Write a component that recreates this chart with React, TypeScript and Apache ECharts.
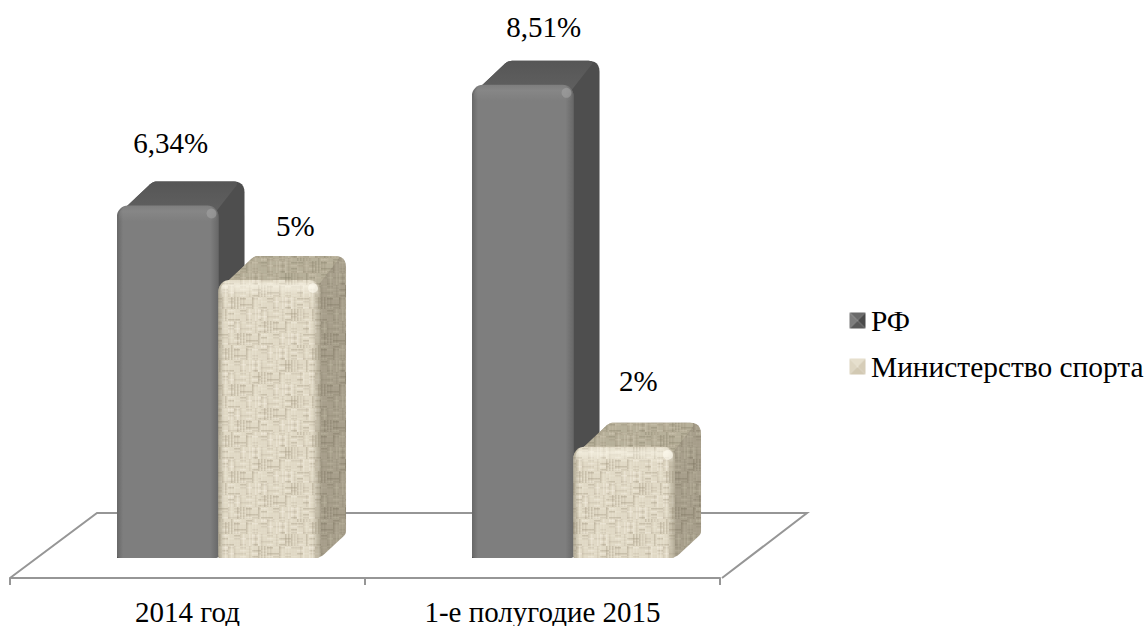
import React, { useEffect, useRef } from "react";
import * as echarts from "echarts";

const categories = ["2014 год", "1-е полугодие 2015"];
const rfValues = [6.34, 8.51];
const sportValues = [5, 2];
const rfLabels = ["6,34%", "8,51%"];
const sportLabels = ["5%", "2%"];
const seriesNames = ["РФ", "Министерство спорта"];

const FONT = '"Liberation Serif", "Times New Roman", serif';
const FONT_SIZE = 29;
const threadShade = [0, 2, 1, 3, 0, 1, 4, 0, 2, 0, 3, 1, 0, 4, 1, 2, 0, 3, 2, 0, 1, 4, 0, 3, 1, 0, 2, 4, 0];

function makeWeave(base: string, light: string, dark: string) {
  const size = 87;
  const cv = document.createElement("canvas");
  cv.width = size;
  cv.height = size;
  const c = cv.getContext("2d")!;
  c.fillStyle = base;
  c.fillRect(0, 0, size, size);
  (c as any).filter = "blur(0.6px)";
  for (let i = 0; i < 29; i++) {
    for (let j = 0; j < 29; j++) {
      const s = threadShade[(i * 7 + (j >> 2) * 5) % 29];
      const t = threadShade[(i * 11 + (j >> 1) * 13 + 3) % 29];
      c.fillStyle = s % 2 ? dark : light;
      c.globalAlpha = 0.08 + s * 0.09;
      c.fillRect(i * 3, j * 3, 1.5, 3);
      c.fillStyle = t % 2 ? dark : light;
      c.globalAlpha = 0.08 + t * 0.09;
      c.fillRect(j * 3, i * 3 + 1, 3, 1.5);
    }
  }
  c.globalAlpha = 1;
  return cv.toDataURL();
}

function makeBevelIcon(top: string, left: string, right: string, bottom: string, centre: string) {
  const cv = document.createElement("canvas");
  const n = 16;
  cv.width = n;
  cv.height = n;
  const c = cv.getContext("2d")!;
  const tri = (col: string, pts: number[][]) => {
    c.fillStyle = col;
    c.beginPath();
    pts.forEach((p, i) => (i ? c.lineTo(p[0], p[1]) : c.moveTo(p[0], p[1])));
    c.closePath();
    c.fill();
  };
  const m = n / 2;
  tri(top, [[0, 0], [n, 0], [m, m]]);
  tri(left, [[0, 0], [0, n], [m, m]]);
  tri(right, [[n, 0], [n, n], [m, m]]);
  tri(bottom, [[0, n], [n, n], [m, m]]);
  c.fillStyle = centre;
  c.fillRect(m - 1, m - 1, 2, 2);
  return cv.toDataURL();
}

function roundedPoly(pts: number[][], radii: number[]) {
  const out: number[][] = [];
  const n = pts.length;
  for (let i = 0; i < n; i++) {
    const p = pts[i];
    const a = pts[(i + n - 1) % n];
    const b = pts[(i + 1) % n];
    const r = radii[i];
    if (!r) {
      out.push(p);
      continue;
    }
    const la = Math.hypot(a[0] - p[0], a[1] - p[1]);
    const lb = Math.hypot(b[0] - p[0], b[1] - p[1]);
    const s = [p[0] + ((a[0] - p[0]) * r) / la, p[1] + ((a[1] - p[1]) * r) / la];
    const e = [p[0] + ((b[0] - p[0]) * r) / lb, p[1] + ((b[1] - p[1]) * r) / lb];
    for (let k = 0; k <= 6; k++) {
      const t = k / 6;
      const u = 1 - t;
      out.push([
        u * u * s[0] + 2 * u * t * p[0] + t * t * e[0],
        u * u * s[1] + 2 * u * t * p[1] + t * t * e[1],
      ]);
    }
  }
  return out;
}

const grad = (x2: number, y2: number, stops: [number, string][]) => ({
  type: "linear",
  x: 0,
  y: 0,
  x2,
  y2,
  colorStops: stops.map(([offset, color]) => ({ offset, color })),
});

type Skin = {
  side: any;
  top: any;
  front: any;
  edgeDark: string;
  edgeClear: string;
  shine: string;
  shineClear: string;
  spot: string;
};

function barItem(
  skin: Skin,
  offset: number,
  labels: string[],
  nudges: number[][]
) {
  return (params: any, api: any) => {
    const idx = api.value(0);
    const val = api.value(1);
    const cx = api.coord([idx, 0])[0];
    const yB = api.coord([idx, 0])[1];
    const yT = api.coord([idx, val])[1];
    const band = api.size([1, 0])[0];
    const w = band * 0.286;
    const x0 = cx + offset * band;
    const dx = 26;
    const dy = 24;
    const x1 = x0 + w;
    const sil = roundedPoly(
      [
        [x0, yT + 10],
        [x0 + 36, yT - dy],
        [x1 + dx, yT - dy],
        [x1 + dx, yB - dy],
        [x1, yB],
        [x0, yB],
      ],
      [0, 4, 11, 3, 6, 0]
    );
    const topFace = roundedPoly(
      [
        [x0, yT + 10],
        [x0 + 36, yT - dy],
        [x1 + dx - 5, yT - dy],
        [x1 - 4, yT + 8],
      ],
      [0, 4, 6, 0]
    );
    return {
      type: "group",
      children: [
        { type: "polygon", shape: { points: sil }, style: { fill: skin.side } },
        { type: "polygon", shape: { points: topFace }, style: { fill: skin.top } },
        {
          type: "rect",
          shape: { x: x0, y: yT, width: w, height: yB - yT, r: [11, 11, 3, 3] },
          style: { fill: skin.front },
        },
        {
          type: "rect",
          shape: { x: x0, y: yT, width: w, height: yB - yT, r: [11, 11, 3, 3] },
          style: {
            fill: grad(1, 0, [
              [0, skin.edgeDark],
              [0.06, skin.edgeClear],
              [0.92, skin.edgeClear],
              [1, skin.edgeDark],
            ]),
          },
        },
        {
          type: "rect",
          shape: { x: x0 + 2, y: yT, width: w - 4, height: 16, r: [11, 11, 0, 0] },
          style: {
            fill: grad(0, 1, [
              [0, skin.shineClear],
              [0.35, skin.shine],
              [1, skin.shineClear],
            ]),
          },
        },
        {
          type: "circle",
          shape: { cx: x1 - 7, cy: yT + 8, r: 5 },
          style: { fill: skin.spot },
        },
        {
          type: "text",
          x: x0 + w / 2 + nudges[idx][0],
          y: yT + nudges[idx][1],
          style: {
            text: labels[idx],
            font: `${FONT_SIZE}px ${FONT}`,
            fill: "#000",
            textAlign: "center",
            textVerticalAlign: "middle",
          },
        },
      ],
    };
  };
}

export default function App() {
  const ref = useRef<HTMLDivElement>(null);
  useEffect(() => {
    document.body.style.margin = "0";
    const chart = echarts.init(ref.current!, undefined, { renderer: "svg" });
    const pat = (image: string) => ({
      image,
      repeat: "repeat",
      imageWidth: 87,
      imageHeight: 87,
    });
    const wFront = makeWeave("#e0d8c4", "#f4efe2", "#9a917a");
    const wTop = makeWeave("#b6ae98", "#cfc8b4", "#857d67");
    const wSide = makeWeave("#a69e8a", "#bdb6a2", "#77705c");

    const rfSkin: Skin = {
      side: "#4e4e4e",
      top: grad(0, 1, [[0, "#565656"], [1, "#616161"]]),
      front: "#7e7e7e",
      edgeDark: "rgba(85,85,85,0.55)",
      edgeClear: "rgba(85,85,85,0)",
      shine: "rgba(150,150,150,0.35)",
      shineClear: "rgba(150,150,150,0)",
      spot: "rgba(165,165,165,0.55)",
    };
    const sportSkin: Skin = {
      side: pat(wSide) as any,
      top: pat(wTop) as any,
      front: pat(wFront) as any,
      edgeDark: "rgba(130,122,100,0.5)",
      edgeClear: "rgba(130,122,100,0)",
      shine: "rgba(250,246,232,0.6)",
      shineClear: "rgba(250,246,232,0)",
      spot: "rgba(255,252,240,0.6)",
    };

    const rfIcon = makeBevelIcon("#6a6a6a", "#7d7d7d", "#4a4a4a", "#5a5a5a", "#888888");
    const sportIcon = makeBevelIcon("#e6dfcd", "#ded6c2", "#d6cdb8", "#d2c9b3", "#e8e2d2");

    chart.setOption({
      animation: false,
      backgroundColor: "#fff",
      textStyle: { fontFamily: FONT },
      grid: { left: 10, top: 2, width: 710, height: 576, outerBoundsMode: "none" },
      xAxis: {
        type: "category",
        data: categories,
        axisLine: { show: true, onZero: false, lineStyle: { color: "#969696", width: 2 } },
        axisTick: { show: true, alignWithLabel: false, length: 7, lineStyle: { color: "#969696", width: 2 } },
        axisLabel: { color: "#000", fontSize: FONT_SIZE, fontFamily: FONT, margin: 19 },
      },
      yAxis: { type: "value", min: -0.36, max: 10, show: false, splitLine: { show: false } },
      legend: {
        orient: "vertical",
        left: 849,
        top: 306,
        padding: 0,
        itemWidth: 17,
        itemHeight: 16,
        itemGap: 17,
        selectedMode: false,
        textStyle: { color: "#000", fontSize: 29.4, fontFamily: FONT, padding: [0, 0, 0, 0] },
        data: [
          { name: seriesNames[0], icon: "image://" + rfIcon },
          { name: seriesNames[1], icon: "image://" + sportIcon },
        ],
      },
      series: [
        {
          type: "custom",
          name: "floor",
          silent: true,
          data: [[0, 0]],
          encode: { x: 0, y: 1 },
          renderItem: (params: any) => {
            const g = params.coordSys;
            const l = g.x;
            const r = g.x + g.width;
            const b = g.y + g.height;
            return {
              type: "polyline",
              shape: {
                points: [
                  [l, b],
                  [l + 87, b - 65],
                  [r + 87, b - 65],
                  [r + 2, b],
                ],
              },
              style: { stroke: "#969696", lineWidth: 2, fill: "none" },
            };
          },
        },
        {
          type: "custom",
          name: seriesNames[0],
          data: rfValues.map((v, i) => [i, v]),
          encode: { x: 0, y: 1 },
          renderItem: barItem(rfSkin, -70.5 / 355, rfLabels, [
            [3, -62],
            [21, -58],
          ]),
        },
        {
          type: "custom",
          name: seriesNames[1],
          data: sportValues.map((v, i) => [i, v]),
          encode: { x: 0, y: 1 },
          renderItem: barItem(sportSkin, 31 / 355, sportLabels, [
            [26, -54],
            [14, -66],
          ]),
        },
      ],
    });
    return () => chart.dispose();
  }, []);
  return <div ref={ref} style={{ width: 1146, height: 626 }} />;
}
